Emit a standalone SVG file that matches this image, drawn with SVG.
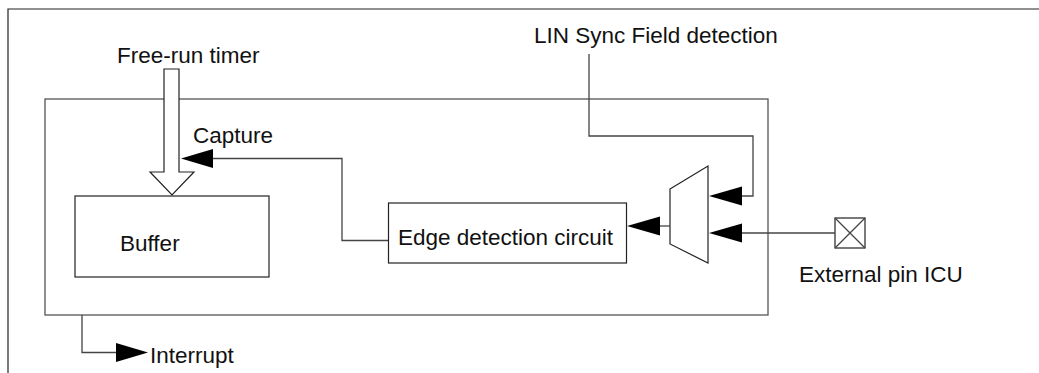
<svg xmlns="http://www.w3.org/2000/svg" width="1039" height="373" viewBox="0 0 1039 373">
<style>
text{font-family:"Liberation Sans",Arial,sans-serif;font-size:22.5px;fill:#111}
.box{fill:#fff;stroke:#222;stroke-width:1.2}
.frame{fill:none;stroke:#222;stroke-width:1.2}
.ln{fill:none;stroke:#444;stroke-width:1.3}
.ah{fill:#000;stroke:none}
</style>
<rect width="1039" height="373" fill="#fff"/>
<g id="frame"><path class="frame" d="M8,373 V9 H1039"/></g>
<g id="module"><rect x="45" y="99" width="723" height="216" fill="none" stroke="#555" stroke-width="1.3"/></g>
<g id="buffer"><rect class="box" x="75" y="196" width="194" height="81"/><text x="120" y="251">Buffer</text></g>
<g id="edge"><rect class="box" x="388.5" y="203" width="238" height="60"/><text x="398" y="245">Edge detection circuit</text></g>
<g id="mux"><polygon class="box" points="670,189 708,166 708,263 670,244"/></g>
<g id="pin"><rect class="box" x="835" y="218" width="30" height="30"/><path class="ln" d="M835,218 L865,248 M865,218 L835,248"/><text x="799" y="282">External pin ICU</text></g>
<g id="labels">
<text x="117" y="63">Free-run timer</text>
<text x="193" y="143">Capture</text>
<text x="534" y="43">LIN Sync Field detection</text>
<text x="150" y="363">Interrupt</text>
</g>
<g id="connectors">
<polygon fill="#fff" stroke="#222" stroke-width="1.2" points="164,69 179,69 179,172 194,172 172,195 150,172 164,172"/>
<path class="ln" d="M388,240.5 H342 V158.5 H212"/>
<polygon class="ah" points="181,158.5 213,149 213,168"/>
<path class="ln" d="M670,226 H658"/>
<polygon class="ah" points="627,226 660,216.5 660,235.5"/>
<path class="ln" d="M589,54 V136 H753 V196 H740"/>
<polygon class="ah" points="709,196 742,186.5 742,205.5"/>
<path class="ln" d="M835,233 H740"/>
<polygon class="ah" points="709,233 742,223.5 742,242.5"/>
<path class="ln" d="M82,315 V352.5 H118"/>
<polygon class="ah" points="148,352.5 116,343 116,362"/>
</g>
</svg>
